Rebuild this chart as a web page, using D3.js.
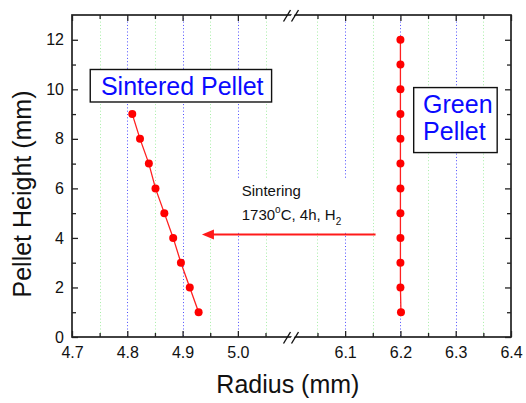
<!DOCTYPE html>
<html>
<head>
<meta charset="utf-8">
<script src="https://cdn.jsdelivr.net/npm/d3@7/dist/d3.min.js"></script>
<style>
    body { margin: 0; background: #fff; }
    svg text { font-family: "Liberation Sans", Arial, sans-serif; }
</style>
</head>
<body>
<svg id="chart"></svg>
<script>
//*************************************************
// Data
//*************************************************
var sinteredHeight = [1, 2, 3, 4, 5, 6, 7, 8, 9];
var sinteredRadius = [4.929, 4.913, 4.897, 4.883, 4.867, 4.851, 4.839, 4.823, 4.809];
var greenHeight = [1, 2, 3, 4, 5, 6, 7, 8, 9, 10, 11, 12];
var greenRadius = [6.201, 6.2, 6.2, 6.2, 6.2, 6.2, 6.2, 6.2, 6.2, 6.2, 6.2, 6.2];

var xMajorLeft = [4.7, 4.8, 4.9, 5.0];
var xMajorRight = [6.1, 6.2, 6.3, 6.4];
var xMinorLeft = [4.75, 4.85, 4.95, 5.05];
var xMinorRight = [6.05, 6.15, 6.25, 6.35];
var yMajor = [0, 2, 4, 6, 8, 10, 12];
var yMinor = [1, 3, 5, 7, 9, 11];

var xDomainLeft = [4.7, 5.097];
var xDomainRight = [6.003, 6.4];
var yDomain = [0, 13];

d3.pelletChart = function (){

    //*************************************************
    // Public Variables loaded with default values
    //*************************************************
    var _width = 526;
    var _height = 403;
    var _paddingObject = {
        bottom: 66,
        left: 72,
        right: 15,
        top: 15
    };

    //*************************************************
    // Internal Variables
    //*************************************************
    var __chartWidth;
    var __chartHeight;

    function chart(selection){
        selection.each(function (data){
            var svg = d3.select(this)
                .attr('width', _width)
                .attr('height', _height);

            __chartWidth = _width - _paddingObject.left - _paddingObject.right;
            __chartHeight = _height - _paddingObject.top - _paddingObject.bottom;

            var root = svg.append('g')
                .attr('transform', 'translate(' + _paddingObject.left + ',' + _paddingObject.top + ')');

            // broken x axis: two linear pieces that meet at the break
            var breakX = __chartWidth * 0.5;
            var xLeft = d3.scaleLinear().domain(xDomainLeft).range([0, breakX]);
            var xRight = d3.scaleLinear().domain(xDomainRight).range([breakX, __chartWidth]);
            var x = function (v){ return v < 5.5 ? xLeft(v) : xRight(v); };
            var y = d3.scaleLinear().domain(yDomain).range([__chartHeight, 0]);
            // snap hairlines onto the pixel grid so the dots stay crisp
            var xc = function (v){ return Math.round(x(v)) + 0.5; };

            //----------------------------------------------------------------------------------
            // Grid: blue dots on major ticks, green dots on minor ticks
            //----------------------------------------------------------------------------------
            var grid = root.append('g').attr('class', 'grid');
            grid.selectAll('line.major')
                .data(xMajorLeft.slice(1).concat(xMajorRight.slice(0, 3)))
                .enter().append('line')
                .attr('x1', xc).attr('x2', xc)
                .attr('y1', 0).attr('y2', __chartHeight)
                .attr('stroke', '#4d4dff').attr('stroke-width', 1)
                .attr('stroke-dasharray', '1,2.3');
            grid.selectAll('line.minor')
                .data(xMinorLeft.concat(xMinorRight))
                .enter().append('line')
                .attr('x1', xc).attr('x2', xc)
                .attr('y1', 0).attr('y2', __chartHeight)
                .attr('stroke', '#a6eea6').attr('stroke-width', 1)
                .attr('stroke-dasharray', '1,2.3');

            //----------------------------------------------------------------------------------
            // Sintering annotation (white text area + arrow)
            //----------------------------------------------------------------------------------
            var arrowY = y(4.14);
            var arrowFrom = x(6.155);
            var arrowTo = x(4.935);
            root.append('rect')
                .attr('x', arrowTo - 2).attr('y', arrowY - 56)
                .attr('width', x(6.145) - arrowTo + 2).attr('height', 54)
                .attr('fill', '#fff');
            var note = root.append('text')
                .attr('x', x(5.007)).attr('y', arrowY - 38)
                .attr('font-size', 15).attr('fill', '#111');
            note.text('Sintering');
            var note2 = root.append('text')
                .attr('x', x(5.007)).attr('y', arrowY - 14.5)
                .attr('font-size', 15).attr('fill', '#111');
            note2.append('tspan').text('1730');
            note2.append('tspan').attr('font-size', 10).attr('dy', -7).text('o');
            note2.append('tspan').attr('dy', 7).text('C, 4h, H');
            note2.append('tspan').attr('font-size', 10).attr('dy', 5).text('2');

            root.append('line')
                .attr('x1', arrowFrom).attr('x2', arrowTo + 10)
                .attr('y1', arrowY).attr('y2', arrowY)
                .attr('stroke', '#ff1a1a').attr('stroke-width', 2);
            root.append('path')
                .attr('d', 'M' + arrowTo + ',' + arrowY + 'L' + (arrowTo + 12) + ',' + (arrowY - 5) +
                    'L' + (arrowTo + 12) + ',' + (arrowY + 5) + 'Z')
                .attr('fill', '#ff1a1a');

            //----------------------------------------------------------------------------------
            // Series
            //----------------------------------------------------------------------------------
            var series = [
                sinteredHeight.map(function (h, i){ return { r: sinteredRadius[i], h: h }; }),
                greenHeight.map(function (h, i){ return { r: greenRadius[i], h: h }; })
            ];
            var line = d3.line()
                .x(function (d){ return x(d.r); })
                .y(function (d){ return y(d.h); });
            var seriesNode = root.selectAll('.series').data(series).enter().append('g')
                .attr('class', 'series');
            seriesNode.append('path')
                .attr('d', line)
                .attr('fill', 'none').attr('stroke', '#ff2020').attr('stroke-width', 1.3);
            seriesNode.selectAll('circle').data(function (d){ return d; })
                .enter().append('circle')
                .attr('cx', function (d){ return x(d.r); })
                .attr('cy', function (d){ return y(d.h); })
                .attr('r', 4)
                .attr('fill', '#ff0000');

            //----------------------------------------------------------------------------------
            // Label boxes
            //----------------------------------------------------------------------------------
            labelBox(root, x(4.733), y(10.8), x(5.061) - x(4.733), 32.5, ['Sintered Pellet'], 10.7, 25.3);
            labelBox(root, x(6.224), y(10.07), x(6.375) - x(6.224), 65, ['Green', 'Pellet'], 9.4, 26.7);

            //----------------------------------------------------------------------------------
            // Axes (ticks point inward on all four sides)
            //----------------------------------------------------------------------------------
            var axes = root.append('g').attr('class', 'axes');
            [[xLeft, xMajorLeft, xMinorLeft], [xRight, xMajorRight, xMinorRight]].forEach(function (p){
                axes.append('g')
                    .attr('transform', 'translate(0,' + __chartHeight + ')')
                    .call(d3.axisBottom(p[0]).tickValues(p[1]).tickSizeInner(-6).tickSizeOuter(0)
                        .tickPadding(10).tickFormat(d3.format('.1f')));
                axes.append('g')
                    .attr('transform', 'translate(0,' + __chartHeight + ')')
                    .call(d3.axisBottom(p[0]).tickValues(p[2]).tickSizeInner(-4).tickSizeOuter(0)
                        .tickFormat(''));
                axes.append('g')
                    .call(d3.axisTop(p[0]).tickValues(p[1]).tickSizeInner(-6).tickSizeOuter(0).tickFormat(''));
                axes.append('g')
                    .call(d3.axisTop(p[0]).tickValues(p[2]).tickSizeInner(-4).tickSizeOuter(0).tickFormat(''));
            });
            axes.append('g')
                .call(d3.axisLeft(y).tickValues(yMajor).tickSizeInner(-6).tickSizeOuter(0).tickPadding(8));
            axes.append('g')
                .call(d3.axisLeft(y).tickValues(yMinor).tickSizeInner(-4).tickSizeOuter(0).tickFormat(''));
            axes.append('g')
                .attr('transform', 'translate(' + __chartWidth + ',0)')
                .call(d3.axisRight(y).tickValues(yMajor).tickSizeInner(-6).tickSizeOuter(0).tickFormat(''));
            axes.append('g')
                .attr('transform', 'translate(' + __chartWidth + ',0)')
                .call(d3.axisRight(y).tickValues(yMinor).tickSizeInner(-4).tickSizeOuter(0).tickFormat(''));
            axes.selectAll('.domain').remove();
            axes.selectAll('.tick line').attr('stroke', '#222').attr('stroke-width', 1.3);
            axes.selectAll('.tick text').attr('font-size', 16).attr('fill', '#111')
                .attr('font-family', '"Liberation Sans", Arial, sans-serif');

            root.append('rect')
                .attr('width', __chartWidth).attr('height', __chartHeight)
                .attr('fill', 'none').attr('stroke', '#222').attr('stroke-width', 1.7);

            // break marks on top and bottom axis
            [0, __chartHeight].forEach(function (yy){
                root.append('path')
                    .attr('d', 'M' + (breakX - 4) + ',' + (yy + 6) + 'L' + (breakX + 3) + ',' + (yy - 5) +
                        'L' + (breakX + 6) + ',' + (yy - 5) + 'L' + (breakX - 1) + ',' + (yy + 6) + 'Z')
                    .attr('fill', '#fff');
                [-4, 4].forEach(function (dx){
                    root.append('line')
                        .attr('x1', breakX + dx - 4).attr('y1', yy + 6.5)
                        .attr('x2', breakX + dx + 3).attr('y2', yy - 5)
                        .attr('stroke', '#111').attr('stroke-width', 1.4);
                });
            });

            //----------------------------------------------------------------------------------
            // Axis titles
            //----------------------------------------------------------------------------------
            svg.append('text')
                .attr('x', _paddingObject.left + x(5.0) + 50).attr('y', 393)
                .attr('text-anchor', 'middle').attr('font-size', 25).attr('fill', '#111')
                .text('Radius (mm)');
            svg.append('text')
                .attr('transform', 'translate(31,194) rotate(-90)')
                .attr('text-anchor', 'middle').attr('font-size', 25).attr('fill', '#111')
                .text('Pellet Height (mm)');
        });
    }

    //-------------------------------------------------
    // Getters and setters for public variables
    //-------------------------------------------------
    chart.width = function (value){
        if (!arguments.length){
            return _width;
        }
        _width = value;
        return chart;
    };
    chart.height = function (value){
        if (!arguments.length){
            return _height;
        }
        _height = value;
        return chart;
    };
    chart.padding = function (newObject){
        if (!arguments.length){
            return _paddingObject;
        }
        _paddingObject = newObject;
        return chart;
    };

    //----------------------------------------------------------------------------------
    // Helper Functions
    //----------------------------------------------------------------------------------
    function labelBox(parent, bx, by, bw, bh, lines, padX, lineStep){
        var g = parent.append('g');
        g.append('rect')
            .attr('x', bx).attr('y', by).attr('width', bw).attr('height', bh)
            .attr('fill', '#fff').attr('stroke', '#111').attr('stroke-width', 1.4);
        lines.forEach(function (t, i){
            g.append('text')
                .attr('x', bx + padX).attr('y', by + 25.5 + i * lineStep)
                .attr('font-size', 25).attr('fill', '#0a0aff')
                .text(t);
        });
    }

    return chart;
};

d3.select('#chart').datum([]).call(d3.pelletChart());
</script>
</body>
</html>
